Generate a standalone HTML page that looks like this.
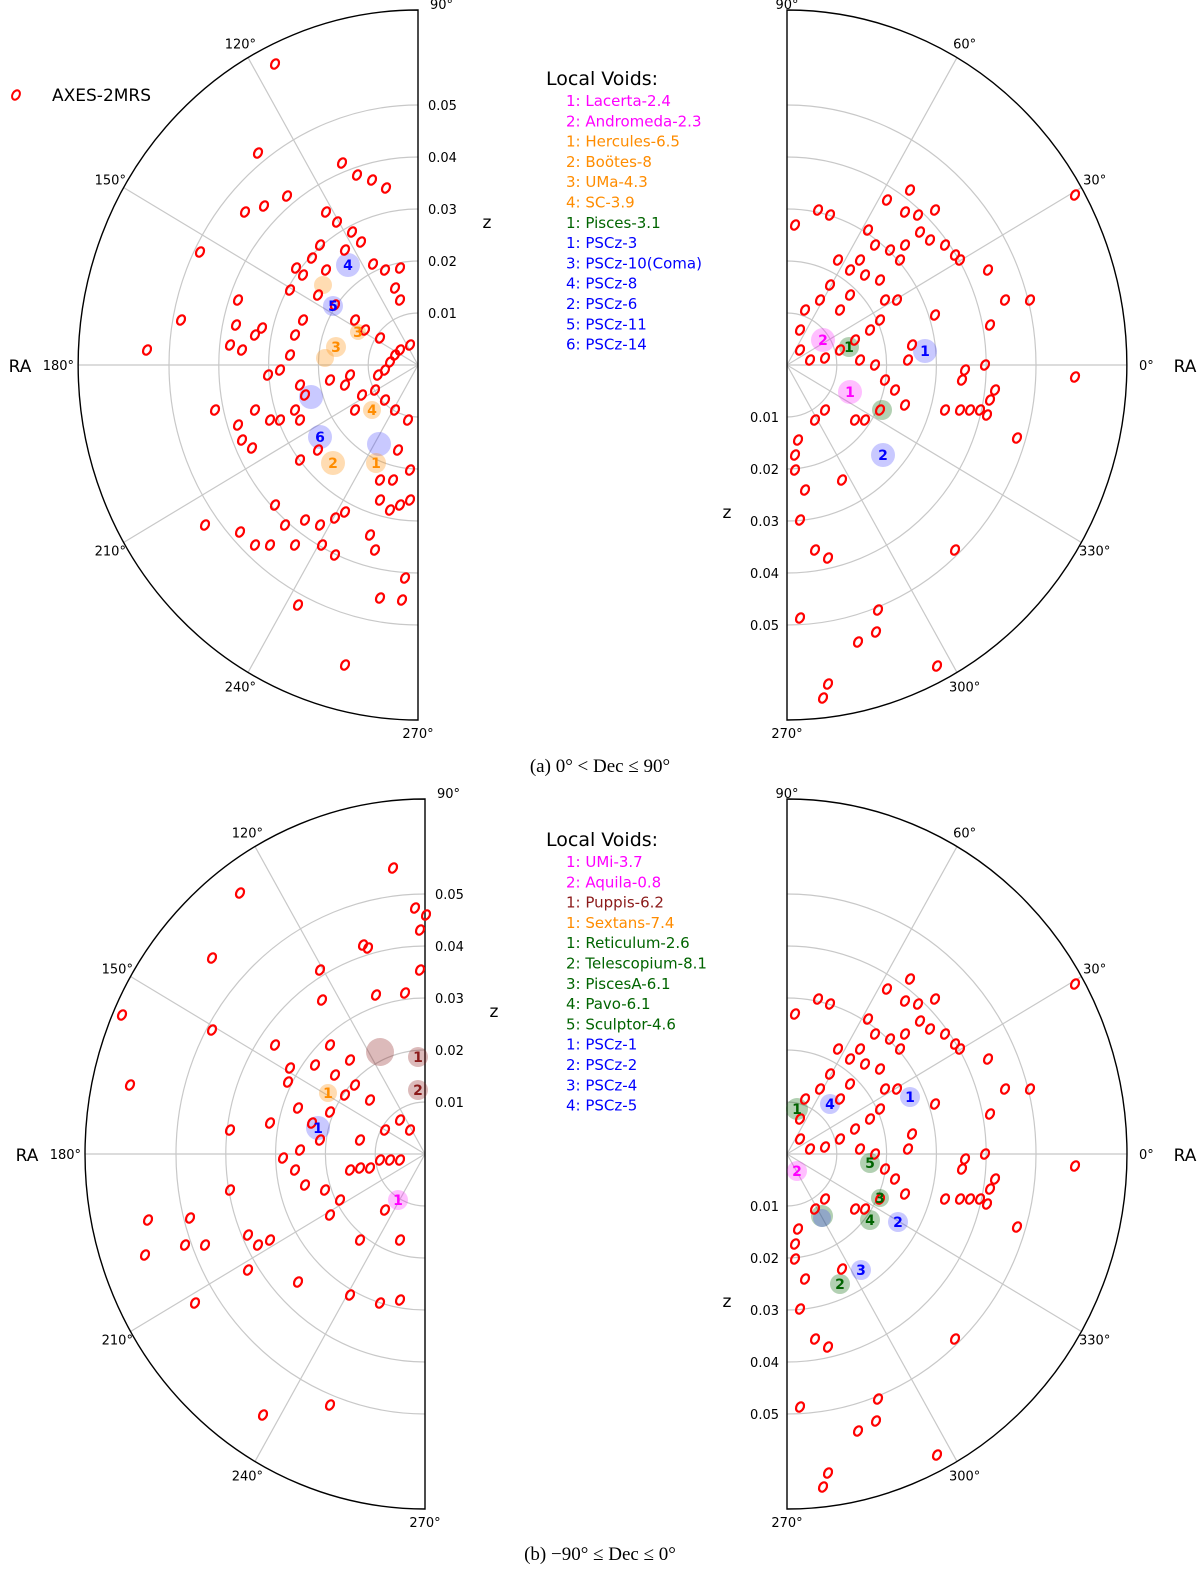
<!DOCTYPE html>
<html><head><meta charset="utf-8"><style>
body{margin:0;background:#fff}
svg{display:block;font-family:"DejaVu Sans","Liberation Sans",sans-serif}
.tk{font-size:13px;fill:#000}
.ax{font-size:17px;fill:#000}
.lg{font-size:15px}
.cap{font-family:"Liberation Serif",serif;font-size:19px}
</style></head><body>
<svg id="chart" width="1200" height="1569" viewBox="0 0 1200 1569" xmlns="http://www.w3.org/2000/svg">
<g id="static">
<ellipse cx="16" cy="95" rx="3.5" ry="5" transform="rotate(30 16 95)" fill="none" stroke="#f00" stroke-width="2"/>
<text x="52" y="101" style="font-size:17px">AXES-2MRS</text>
<text class="cap" x="600" y="772" text-anchor="middle">(a) 0° &lt; Dec ≤ 90°</text>
<text class="cap" x="600" y="1560" text-anchor="middle">(b) −90° ≤ Dec ≤ 0°</text>
</g>
<g id="panels"></g>
</svg>
<script>
// Point positions (image coords), converted to redshift offsets below
const ZX_SCALE = 4980; // horizontal px per unit z
const ZY_SCALE = 5200; // vertical px per unit z
const tlX=[275,258,200,181,147,245,264,287,342,357,372,386,326,337,352,320,312,296,290,303,326,345,361,373,385,400,395,400,410,400,395,390,385,378,380,365,355,335,318,303,295,290,280,268,255,238,236,242,230,262,300,305,295,300,280,270,255,238,242,252,215,300,318,355,362,345,350,330,375,385,395,408,398,380,380,400,410,390,345,335,320,305,285,275,255,270,295,322,335,375,370,240,205,345,298,380,402,405,410,393];
const tlY=[64,153,252,320,350,212,206,196,163,175,180,188,212,222,232,245,258,268,290,275,270,250,242,264,270,268,288,300,345,350,355,362,370,375,338,330,320,305,295,320,335,355,370,375,335,300,325,350,345,328,385,395,410,420,420,420,410,425,440,448,410,460,450,410,395,385,375,380,390,400,410,420,450,480,500,505,500,510,512,518,525,520,525,505,545,545,545,545,555,550,535,532,525,665,605,598,600,578,470,480];
const trX=[1075,1075,1017,987,990,995,980,970,960,945,962,965,985,990,1005,1030,988,960,955,945,930,920,905,900,890,875,860,850,830,820,805,800,800,810,825,840,855,870,880,885,880,865,850,840,860,875,885,895,905,880,865,855,825,815,798,795,795,805,800,842,815,828,800,955,878,876,858,937,828,823,910,905,918,935,887,830,818,795,868,838,908,912,935,897];
const trY=[195,377,438,415,400,390,410,410,410,410,380,370,365,325,300,300,270,260,255,245,240,232,245,260,250,245,260,270,285,300,310,330,350,360,358,350,340,330,320,300,280,275,295,310,360,365,380,390,405,410,420,420,410,420,440,455,470,490,520,480,550,558,618,550,610,632,642,666,684,698,190,212,215,210,200,215,210,225,230,260,360,345,315,300];
const blX=[393,415,240,212,122,130,212,320,363,368,322,376,405,420,420,426,275,290,288,315,330,335,350,345,298,312,320,300,283,295,305,325,330,350,360,370,380,390,400,360,385,400,410,370,355,330,270,230,230,190,185,205,148,145,195,248,258,270,248,298,350,380,400,400,385,330,263,360,340];
const blY=[868,908,893,958,1015,1085,1030,970,945,948,1000,995,993,970,930,915,1045,1068,1082,1065,1045,1075,1060,1095,1108,1123,1140,1150,1158,1170,1185,1190,1215,1170,1168,1168,1160,1160,1160,1140,1130,1120,1130,1100,1085,1112,1123,1130,1190,1218,1245,1245,1220,1255,1303,1235,1245,1240,1270,1282,1295,1303,1300,1240,1210,1405,1415,1240,1200];
const voidTL={x:[348,323,333,358,336,325,311,372,320,379,333,376],y:[265,285,306,332,347,358,397,410,437,444,463,463],r:[12,9,10,8,10,9,12,9,12,12,12,10],c:['b','o','b','o','o','o','b','o','b','b','o','o'],t:['4','','5','3','3','','','4','6','','2','1']};
const voidTR={x:[823,849,925,850,882,883],y:[340,347,351,392,410,455],r:[12,10,12,12,10,12],c:['m','g','b','m','g','b'],t:['2','1','1','1','','2']};
const voidBL={x:[380,418,418,328,318,398],y:[1052,1057,1090,1093,1128,1200],r:[14,10,10,9,12,10],c:['r','r','r','o','b','m'],t:['','1','2','1','1','1']};
const voidBR={x:[797,830,910,797,870,880,870,898,822,822,861,840],y:[1109,1104,1097,1171,1163,1198,1220,1222,1216,1218,1270,1284],r:[11,10,10,10,10,9,10,10,11,9,10,10],c:['g','b','b','m','g','g','g','b','g','b','b','g'],t:['1','4','1','2','5','3','4','2','','','3','2']};
const ticksLeftRA=['90°','120°','150°','180°','210°','240°','270°'];
const ticksRightRA=['90°','60°','30°','0°','330°','300°','270°'];
const zTicks=[0.01,0.02,0.03,0.04,0.05];
const legendA=['1: Lacerta-2.4','2: Andromeda-2.3','1: Hercules-6.5','2: Boötes-8','3: UMa-4.3','4: SC-3.9','1: Pisces-3.1','1: PSCz-3','3: PSCz-10(Coma)','4: PSCz-8','2: PSCz-6','5: PSCz-11','6: PSCz-14'];
const legendAc=['m','m','o','o','o','o','g','b','b','b','b','b','b'];
const legendB=['1: UMi-3.7','2: Aquila-0.8','1: Puppis-6.2','1: Sextans-7.4','1: Reticulum-2.6','2: Telescopium-8.1','3: PiscesA-6.1','4: Pavo-6.1','5: Sculptor-4.6','1: PSCz-1','2: PSCz-2','3: PSCz-4','4: PSCz-5'];
const legendBc=['m','m','r','o','g','g','g','g','g','b','b','b','b'];

const COL={m:'#ff00ff',o:'#ff8c00',g:'#006400',b:'#0000ff',r:'#8b1a1a'};
const FILL={m:'rgba(255,0,255,0.25)',o:'rgba(255,140,0,0.3)',g:'rgba(0,100,0,0.3)',b:'rgba(60,60,255,0.28)',r:'rgba(139,26,26,0.3)'};
const NS='http://www.w3.org/2000/svg';
const root=document.getElementById('panels');
function mk(tag,attrs,parent){const e=document.createElementNS(NS,tag);for(const k in attrs)e.setAttribute(k,attrs[k]);(parent||root).appendChild(e);return e;}
const ZMAX=355/5200;

function panel(cx,cy,side,px,py,pcy,voids,ras,name){
  const g=mk('g',{});
  
  
  const sx=zx=>cx+zx*ZX_SCALE, sy=zy=>cy-zy*ZY_SCALE;
  const polar=(deg,z)=>[cx+Math.cos(deg*Math.PI/180)*z*ZX_SCALE,cy-Math.sin(deg*Math.PI/180)*z*ZY_SCALE];
  const sw=side==='left'?0:1;
  zTicks.forEach(z=>{
    const rx=z*ZX_SCALE, ry=z*ZY_SCALE;
    const ring=mk('path',{d:`M${cx},${cy-ry} A${rx},${ry} 0 0 ${sw} ${cx},${cy+ry}`,fill:'none',stroke:'#c8c8c8','stroke-width':1.2},g);
    
    
  });
  const angs=side==='left'?[120,150,180,210,240]:[60,30,0,-30,-60];
  angs.forEach(a=>{const p=polar(a,ZMAX);
    const sp=mk('line',{x1:cx,y1:cy,x2:p[0],y2:p[1],stroke:'#c8c8c8','stroke-width':1.2},g);
    
    
  });
  const RX=ZMAX*ZX_SCALE, RY=ZMAX*ZY_SCALE;
  const ob=mk('path',{d:`M${cx},${cy-RY} A${RX},${RY} 0 0 ${sw} ${cx},${cy+RY} Z`,fill:'none',stroke:'#000','stroke-width':1.4},g);
  
  
  const raAng=side==='left'?[90,120,150,180,210,240,270]:[90,60,30,0,-30,-60,-90];
  raAng.forEach((a,i)=>{
    let p=polar(a,ZMAX*1.045);
    let x=p[0],y=p[1]+5,anc='middle';
    if(a===180){x=cx-RX-4;anc='end';}
    if(a===0){x=cx+RX+12;anc='start';}
    if(a===90){x=cx+(side==='left'?12:0);y=cy-RY-1;anc=side==='left'?'start':'middle';}
    if(a===270||a===-90){x=cx;y=cy+RY+18;anc='middle';}
    const t=mk('text',{x:x,y:y,'text-anchor':anc,class:'tk'},g);t.textContent=ras[i];
    
    
  });
  const ra=mk('text',{x:side==='left'?cx-398:cx+398,y:cy+7,'text-anchor':'middle',class:'ax'},g);ra.textContent='RA';
  
  
  zTicks.forEach(z=>{
    const off=z*ZY_SCALE;
    const t=mk('text',side==='left'?{x:cx+10,y:cy-off+5,'text-anchor':'start',class:'tk'}:{x:cx-8,y:cy+off+5,'text-anchor':'end',class:'tk'},g);
    t.textContent=z.toFixed(2);
    
    
  });
  const zt=mk('text',side==='left'?{x:cx+69,y:cy-137,'text-anchor':'middle',class:'ax'}:{x:cx-60,y:cy+153,'text-anchor':'middle',class:'ax'},g);zt.textContent='z';
  
  
  voids.x.forEach((vx,i)=>{
    const zx=(vx-cx)/ZX_SCALE, zy=-(voids.y[i]-cy)/ZY_SCALE;
    const c=mk('circle',{cx:sx(zx),cy:sy(zy),r:voids.r[i],fill:FILL[voids.c[i]]},g);
    
    
  });
  px.forEach((x,i)=>{
    const zx=(x-cx)/ZX_SCALE, zy=-(py[i]-pcy)/ZY_SCALE;
    const X=sx(zx),Y=sy(zy);
    const e=mk('ellipse',{cx:X,cy:Y,rx:3.6,ry:5,transform:`rotate(30 ${X} ${Y})`,fill:'none',stroke:'#ff0000','stroke-width':2.2},g);
    
    
  });
  voids.x.forEach((vx,i)=>{
    if(!voids.t[i])return;
    const zx=(vx-cx)/ZX_SCALE, zy=-(voids.y[i]-cy)/ZY_SCALE;
    const t=mk('text',{x:sx(zx),y:sy(zy)+5,'text-anchor':'middle',fill:COL[voids.c[i]],style:'font-size:14px;font-weight:bold'},g);
    t.textContent=voids.t[i];
    
    
  });
}
panel(418,365,'left',tlX,tlY,365,voidTL,ticksLeftRA,'panel-a-left');
panel(787,365,'right',trX,trY,365,voidTR,ticksRightRA,'panel-a-right');
panel(425,1154,'left',blX,blY,1154,voidBL,ticksLeftRA,'panel-b-left');
panel(787,1154,'right',trX,trY,365,voidBR,ticksRightRA,'panel-b-right');

function legend(y0,items,cols,name){
  const g=mk('g',{});
  
  
  const h=mk('text',{x:546,y:y0,style:'font-size:19px'},g);h.textContent='Local Voids:';
  
  
  items.forEach((s,i)=>{
    const t=mk('text',{x:566,y:y0+21+i*20.3,class:'lg',fill:COL[cols[i]]},g);t.textContent=s;
    
    
  });
}
legend(85,legendA,legendAc,'legend-a');
legend(846,legendB,legendBc,'legend-b');
</script>
</body></html>
